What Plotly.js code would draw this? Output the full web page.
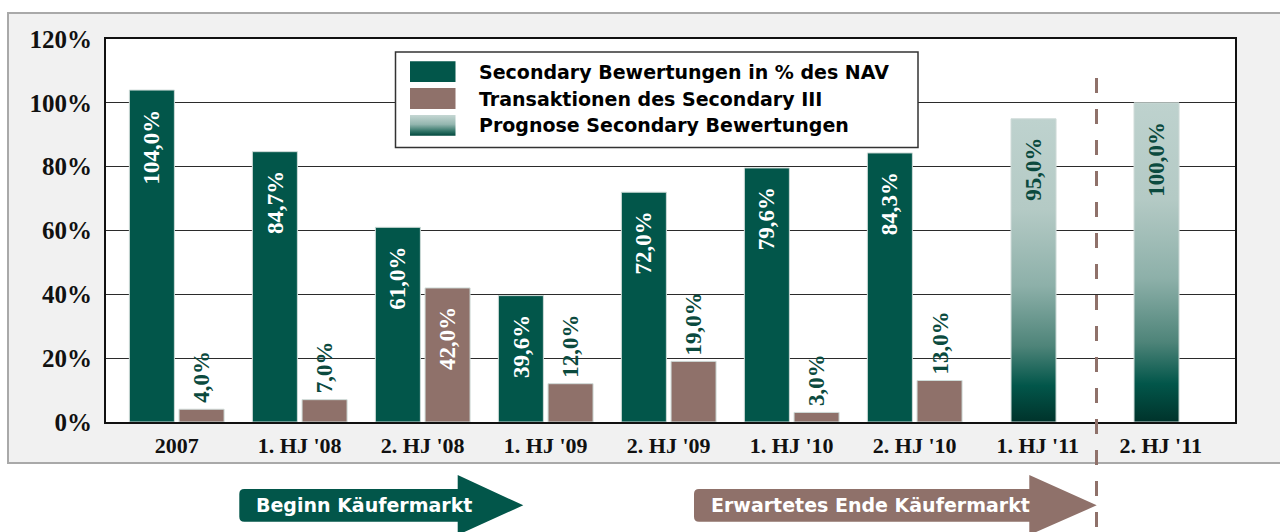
<!DOCTYPE html>
<html><head><meta charset="utf-8">
<script src="https://cdn.plot.ly/plotly-3.0.1.min.js"></script>
<style>html,body{margin:0;padding:0;background:#fff}#chart{width:1280px;height:532px}</style>
</head><body><div id="chart"></div>
<script>
// ---------- data ----------
const categories = ["2007", "1. HJ '08", "2. HJ '08", "1. HJ '09", "2. HJ '09", "1. HJ '10", "2. HJ '10", "1. HJ '11", "2. HJ '11"];
const secondaryCats = ["2007", "1. HJ '08", "2. HJ '08", "1. HJ '09", "2. HJ '09", "1. HJ '10", "2. HJ '10"];
const secondaryValues = [104.0, 84.7, 61.0, 39.6, 72.0, 79.6, 84.3];
const transactionValues = [4.0, 7.0, 42.0, 12.0, 19.0, 3.0, 13.0];
const forecastCats = ["1. HJ '11", "2. HJ '11"];
const forecastValues = [95.0, 100.0];
const legendLabels = ["Secondary Bewertungen in % des NAV", "Transaktionen des Secondary III", "Prognose Secondary Bewertungen"];
const arrowLabels = ["Beginn Käufermarkt", "Erwartetes Ende Käufermarkt"];
const yTicks = [0, 20, 40, 60, 80, 100, 120];

// ---------- style ----------
const GREEN = '#02564A', BROWN = '#8F716A', DARKTXT = '#0B4A3E';
const BAR_W = 0.366, OFF_G = -0.385, OFF_B = 0.019, OFF_F = -0.217;
const M = {l: 106, r: 45, t: 39, b: 110};
const W = 1280, H = 532, PW = W - M.l - M.r, PH = H - M.t - M.b;
const px = p => (p - M.l) / PW;
const py = p => (H - M.b - p) / PH;
const serif = 'Liberation Serif, Times New Roman, serif';
const sans = 'DejaVu Sans, Arial, sans-serif';
const fmt = v => v.toFixed(1).replace('.', ',') + '%';

const barLine = {color: '#cfdbd8', width: 1};
const data = [
  {type: 'bar', x: secondaryCats, y: secondaryValues, offset: OFF_G, width: BAR_W,
   marker: {color: GREEN, line: barLine}, hoverinfo: 'skip'},
  {type: 'bar', x: secondaryCats, y: transactionValues, offset: OFF_B, width: BAR_W,
   marker: {color: BROWN, line: barLine}, hoverinfo: 'skip'},
  {type: 'bar', x: forecastCats, y: forecastValues, offset: OFF_F, width: BAR_W,
   marker: {color: '#7FA69F', line: barLine}, hoverinfo: 'skip'}
];

const annotations = [];
function addLabels(cats, vals, off, insideColor, insideMin) {
  cats.forEach((c, i) => {
    const v = vals[i];
    const inside = v >= insideMin;
    annotations.push({
      xref: 'x', yref: 'y', x: categories.indexOf(c) + off + BAR_W / 2, y: v,
      text: fmt(v), textangle: -90, showarrow: false,
      xanchor: 'center', yanchor: inside ? 'top' : 'bottom', yshift: inside ? -17 : 4,
      font: {family: serif, size: 23, weight: 'bold', color: inside ? insideColor : DARKTXT}
    });
  });
}
addLabels(secondaryCats, secondaryValues, OFF_G, '#ffffff', 30);
addLabels(secondaryCats, transactionValues, OFF_B, '#ffffff', 30);
addLabels(forecastCats, forecastValues, OFF_F, DARKTXT, 30);

const legendRows = [[61.3, 82], [88, 109], [115, 135.7]];
const legendFills = [GREEN, BROWN, '#8FB3AC'];
legendLabels.forEach((t, i) => {
  annotations.push({xref: 'paper', yref: 'paper', x: px(477), y: py((legendRows[i][0] + legendRows[i][1]) / 2),
    xanchor: 'left', yanchor: 'middle', text: t, showarrow: false,
    font: {family: sans, size: 19, weight: 'bold', color: '#000'}});
});
const arrowTextX = [254, 709];
arrowLabels.forEach((t, i) => {
  annotations.push({xref: 'paper', yref: 'paper', x: px(arrowTextX[i]), y: py(505),
    xanchor: 'left', yanchor: 'middle', text: t, showarrow: false,
    font: {family: sans, size: 19, weight: 'bold', color: '#fff'}});
});

function arrowPath(x0, xh, xt, top, bot, htop, hbot, r) {
  const mid = (top + bot) / 2;
  const pts = [
    ['M', x0 + r, top], ['L', xh, top], ['L', xh, htop], ['L', xt, mid], ['L', xh, hbot], ['L', xh, bot],
    ['L', x0 + r, bot]
  ];
  let s = pts.map(p => p[0] + ' ' + px(p[1]) + ',' + py(p[2])).join(' ');
  s += ' Q ' + px(x0) + ',' + py(bot) + ' ' + px(x0) + ',' + py(bot - r);
  s += ' L ' + px(x0) + ',' + py(top + r);
  s += ' Q ' + px(x0) + ',' + py(top) + ' ' + px(x0 + r) + ',' + py(top) + ' Z';
  return s;
}

const shapes = [
  {type: 'rect', xref: 'paper', yref: 'paper', layer: 'below', x0: px(8), x1: px(1300), y0: py(463), y1: py(13),
   fillcolor: '#F1F1F1', line: {color: '#A9A9A9', width: 2}},
  {type: 'rect', xref: 'paper', yref: 'paper', layer: 'below', x0: 0, x1: 1, y0: 0, y1: 1,
   fillcolor: '#FFFFFF', line: {width: 0}},
  {type: 'rect', xref: 'paper', yref: 'paper', layer: 'above', x0: px(395.5), x1: px(918), y0: py(147.4), y1: py(52),
   fillcolor: '#FFFFFF', line: {color: '#333333', width: 1.5}}
];
legendRows.forEach((r, i) => {
  shapes.push({type: 'rect', xref: 'paper', yref: 'paper', layer: 'above', x0: px(410), x1: px(455.5),
    y0: py(r[1]), y1: py(r[0]), fillcolor: legendFills[i], line: {width: 0}});
});
shapes.push({type: 'line', xref: 'paper', yref: 'paper', layer: 'above', x0: px(1096.5), x1: px(1096.5), y0: py(527), y1: py(68),
  line: {color: BROWN, width: 3, dash: '15px,16px'}});
shapes.push({type: 'path', xref: 'paper', yref: 'paper', layer: 'above',
  path: arrowPath(239.3, 457.7, 523.3, 489, 521.7, 475, 535, 5), fillcolor: GREEN, line: {width: 0}});
shapes.push({type: 'path', xref: 'paper', yref: 'paper', layer: 'above',
  path: arrowPath(694, 1029.3, 1096.7, 489, 521.7, 475, 535, 5), fillcolor: BROWN, line: {width: 0}});

const layout = {
  width: W, height: H, margin: M, autosize: false,
  paper_bgcolor: '#FFFFFF', plot_bgcolor: '#FFFFFF',
  barmode: 'overlay', showlegend: false,
  xaxis: {type: 'category', categoryorder: 'array', categoryarray: categories, range: [-0.575, 8.604],
    showgrid: false, zeroline: false, showline: true, mirror: true, linecolor: '#111', linewidth: 2,
    ticks: '', ticklabelstandoff: 3,
    tickfont: {family: serif, size: 22, weight: 'bold', color: '#111'}},
  yaxis: {range: [0, 120], tickvals: yTicks, ticktext: yTicks.map(v => v + '%'),
    showgrid: true, gridcolor: '#2b2b2b', gridwidth: 1, zeroline: false,
    showline: true, mirror: true, linecolor: '#111', linewidth: 2, ticks: '', ticklabelstandoff: 7,
    tickfont: {family: serif, size: 25, weight: 'bold', color: '#111'}},
  shapes: shapes, annotations: annotations
};

Plotly.newPlot('chart', data, layout, {staticPlot: true, responsive: false}).then(gd => {
  const ns = 'http://www.w3.org/2000/svg';
  const svg = gd.querySelector('.main-svg');
  let defs = svg.querySelector('defs');
  if (!defs) { defs = document.createElementNS(ns, 'defs'); svg.insertBefore(defs, svg.firstChild); }
  function grad(id, stops) {
    const g = document.createElementNS(ns, 'linearGradient');
    g.setAttribute('id', id);
    g.setAttribute('x1', '0'); g.setAttribute('y1', '0'); g.setAttribute('x2', '0'); g.setAttribute('y2', '1');
    stops.forEach(([o, c]) => {
      const s = document.createElementNS(ns, 'stop');
      s.setAttribute('offset', o); s.setAttribute('stop-color', c); g.appendChild(s);
    });
    defs.appendChild(g);
  }
  grad('fcGrad', [[0, '#BED2CE'], [0.3, '#B4CAC5'], [0.55, '#8DB0A9'], [0.75, '#4E8479'], [0.88, '#02564A'], [1, '#00332B']]);
  grad('lgGrad', [[0, '#C5D7D3'], [0.45, '#94B6AF'], [0.8, '#2D7164'], [1, '#02493E']]);
  const traces = gd.querySelectorAll('.barlayer .trace');
  if (traces[2]) traces[2].querySelectorAll('path').forEach(p => { p.style.fill = 'url(#fcGrad)'; });
  gd.querySelectorAll('.shapelayer path[data-index="5"]').forEach(p => { p.style.fill = 'url(#lgGrad)'; });
});
</script>
</body></html>
